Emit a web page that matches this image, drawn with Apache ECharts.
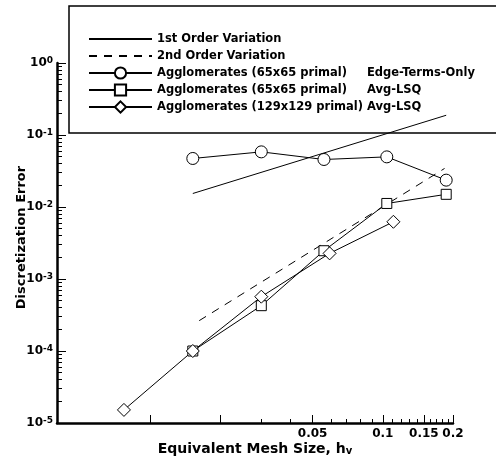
<!DOCTYPE html>
<html>
<head>
<meta charset="utf-8">
<script src="https://cdn.jsdelivr.net/npm/echarts@6/dist/echarts.min.js"></script>
<style>
    html, body { margin: 0; padding: 0; background: #fff; }
    #chart { width: 496px; height: 459px; }
</style>
</head>
<body>
<div id="chart"></div>
<script>
// 参考线
const firstOrderH = [0.0153, 0.187];
const firstOrderErr = [0.0154, 0.188];
const secondOrderH = [0.0163, 0.184];
const secondOrderErr = [2.64e-4, 0.0343];

// Agglomerates (65x65 primal) Edge-Terms-Only
const edgeH = [0.0153, 0.0301, 0.0559, 0.104, 0.187];
const edgeErr = [0.0472, 0.0583, 0.0457, 0.0497, 0.0236];

// Agglomerates (65x65 primal) Avg-LSQ
const lsq65H = [0.0153, 0.0301, 0.0559, 0.104, 0.187];
const lsq65Err = [1.0e-4, 4.26e-4, 2.47e-3, 0.0112, 0.0150];

// Agglomerates (129x129 primal) Avg-LSQ
const lsq129H = [0.00775, 0.0153, 0.0301, 0.0591, 0.111];
const lsq129Err = [1.52e-5, 1.0e-4, 5.68e-4, 2.27e-3, 6.23e-3];

// 刻度
const xLabelTicks = [0.05, 0.1, 0.15, 0.2];
const xMajorTicks = [0.01, 0.02, 0.05, 0.1, 0.15, 0.2];
const xMinorTicks = [0.03, 0.04, 0.06, 0.07, 0.08, 0.09,
    0.11, 0.12, 0.13, 0.14, 0.16, 0.17, 0.18, 0.19];
const yDecades = [1e-5, 1e-4, 1e-3, 1e-2, 1e-1, 1];

const seriesNames = [
    "1st Order Variation",
    "2nd Order Variation",
    "Agglomerates (65x65 primal) Edge-Terms-Only",
    "Agglomerates (65x65 primal) Avg-LSQ",
    "Agglomerates (129x129 primal) Avg-LSQ",
];

const FONT = "DejaVu Sans";

function pairs(xs, ys) {
    return xs.map((x, i) => [x, ys[i]]);
}

// 每个十年里的 2..9 小刻度
let yMinorTicks = [];
yDecades.slice(0, -1).forEach(d => {
    for (let k = 2; k <= 9; k++) yMinorTicks.push(+(d * k).toPrecision(3));
});

const txt = { fontFamily: FONT, fontWeight: "bold", color: "#000" };
const hollow = { color: "#fff", borderColor: "#000", borderWidth: 1 };
const noMark = { color: "rgba(0,0,0,0)", borderWidth: 0 };

let chart = echarts.init(document.getElementById("chart"));

let option = {
    animation: false,
    backgroundColor: "#fff",
    grid: { left: 57, top: 63, right: 43, bottom: 36, outerBoundsMode: "none" },
    legend: {
        orient: "vertical",
        left: 69,
        top: 6,
        padding: [26, 60, 19, 19],
        borderColor: "#000",
        borderWidth: 1.5,
        itemWidth: 63,
        itemHeight: 14,
        itemGap: 3,
        selectedMode: false,
        data: seriesNames,
        formatter: function (name) {
            let i = name.indexOf(") ");
            if (i < 0) return "{a|" + name + "}";
            return "{a|" + name.slice(0, i + 1) + "}{b|" + name.slice(i + 2) + "}";
        },
        textStyle: {
            ...txt,
            fontSize: 11.5,
            lineHeight: 14,
            rich: {
                a: { ...txt, fontSize: 11.5, lineHeight: 14, width: 210 },
                b: { ...txt, fontSize: 11.5, lineHeight: 14 },
            },
        },
    },
    xAxis: [
        {
            type: "log",
            min: 0.004,
            max: 0.2,
            name: "Equivalent Mesh Size, h{sub|v}",
            nameLocation: "middle",
            nameGap: 19,
            nameMoveOverlap: false,
            nameTextStyle: {
                ...txt,
                fontSize: 14,
                rich: {
                    sub: { ...txt, fontSize: 10, lineHeight: 6, verticalAlign: "bottom" },
                },
            },
            axisLine: { lineStyle: { color: "#000", width: 2.5 } },
            axisTick: { inside: true, length: 8, customValues: xMajorTicks, lineStyle: { color: "#000", width: 1 } },
            axisLabel: {
                ...txt,
                fontSize: 12,
                margin: 5,
                customValues: xLabelTicks,
                formatter: v => String(+v.toPrecision(3)),
            },
            splitLine: { show: false },
        },
        {
            type: "log",
            min: 0.004,
            max: 0.2,
            position: "bottom",
            axisLine: { show: false },
            axisTick: { inside: true, length: 4, customValues: xMinorTicks, lineStyle: { color: "#000", width: 1 } },
            axisLabel: { show: false },
            splitLine: { show: false },
        },
    ],
    yAxis: [
        {
            type: "log",
            min: 1e-5,
            max: 1,
            name: "Discretization Error",
            nameLocation: "middle",
            nameGap: 29,
            nameMoveOverlap: false,
            nameTextStyle: { ...txt, fontSize: 13, padding: [0, 0, 0, 11] },
            axisLine: { lineStyle: { color: "#000", width: 2.5 } },
            axisTick: { inside: true, length: 9, customValues: yDecades, lineStyle: { color: "#000", width: 1 } },
            axisLabel: {
                margin: 4,
                customValues: yDecades,
                formatter: v => "{b|10}{s|" + Math.round(Math.log10(v)) + "}",
                rich: {
                    b: { ...txt, fontSize: 12, lineHeight: 14 },
                    s: { ...txt, fontSize: 9, lineHeight: 8, verticalAlign: "top" },
                },
            },
            splitLine: { show: false },
        },
        {
            type: "log",
            min: 1e-5,
            max: 1,
            position: "left",
            axisLine: { show: false },
            axisTick: { inside: true, length: 5, customValues: yMinorTicks, lineStyle: { color: "#000", width: 1 } },
            axisLabel: { show: false },
            splitLine: { show: false },
        },
    ],
    series: [
        {
            name: seriesNames[0],
            type: "line",
            symbol: "none",
            data: pairs(firstOrderH, firstOrderErr),
            lineStyle: { color: "#000", width: 1 },
            itemStyle: noMark,
        },
        {
            name: seriesNames[1],
            type: "line",
            symbol: "none",
            data: pairs(secondOrderH, secondOrderErr),
            lineStyle: { color: "#000", width: 1, type: [8, 7] },
            itemStyle: noMark,
        },
        {
            name: seriesNames[2],
            type: "line",
            symbol: "circle",
            symbolSize: 12,
            data: pairs(edgeH, edgeErr),
            lineStyle: { color: "#000", width: 1 },
            itemStyle: hollow,
        },
        {
            name: seriesNames[3],
            type: "line",
            symbol: "rect",
            symbolSize: 10,
            data: pairs(lsq65H, lsq65Err),
            lineStyle: { color: "#000", width: 1 },
            itemStyle: hollow,
        },
        {
            name: seriesNames[4],
            type: "line",
            symbol: "diamond",
            symbolSize: 13,
            data: pairs(lsq129H, lsq129Err),
            lineStyle: { color: "#000", width: 1 },
            itemStyle: hollow,
        },
    ],
};

chart.setOption(option);
</script>
</body>
</html>
